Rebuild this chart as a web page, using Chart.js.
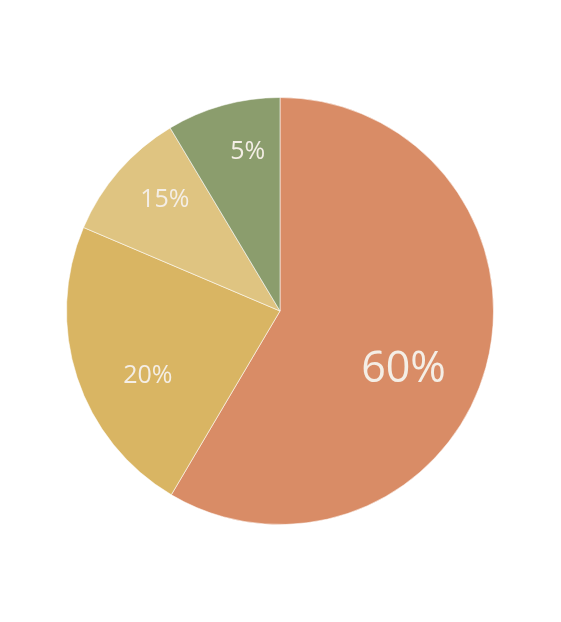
<!DOCTYPE html>
<html>
<head>
<meta charset="utf-8">
<script src="https://cdn.jsdelivr.net/npm/chart.js@4/dist/chart.umd.min.js"></script>
<style>
  html, body { margin: 0; padding: 0; background: #fff; }
  #wrap { width: 561px; height: 622px; }
</style>
</head>
<body>
<div id="wrap"><canvas id="pieChart"></canvas></div>
<script>
// slice sizes as drawn (share of the circle), and the labels printed on them
const categories = ["A", "B", "C", "D"];
const shares = [58.5, 22.9, 10.0, 8.6];
const labelTexts = ["60%", "20%", "15%", "5%"];
const colors = ["#D98C66", "#D9B563", "#DFC481", "#8B9D6D"];

// where each label sits inside its slice
const labelRadius = [0.64, 0.69, 0.75, 0.76];
const labelTurn = [10, -8, 3, 4]; // degrees, clockwise nudge from slice middle
const labelSize = [43, 25, 25, 25];

const sliceLabels = {
  id: "sliceLabels",
  afterDatasetsDraw(chart) {
    const ctx = chart.ctx;
    const arcs = chart.getDatasetMeta(0).data;
    ctx.save();
    ctx.fillStyle = "#F4EEE6";
    ctx.textAlign = "center";
    ctx.textBaseline = "middle";
    arcs.forEach((arc, i) => {
      const mid = (arc.startAngle + arc.endAngle) / 2 + labelTurn[i] * Math.PI / 180;
      const r = arc.outerRadius * labelRadius[i];
      ctx.font = labelSize[i] + 'px "Open Sans", "Noto Sans", sans-serif';
      ctx.fillText(labelTexts[i], arc.x + Math.cos(mid) * r, arc.y + Math.sin(mid) * r);
    });
    ctx.restore();
  },
};

const ctx = document.getElementById("pieChart").getContext("2d");
// eslint-disable-next-line no-undef
new Chart(ctx, {
  type: "pie",
  data: {
    labels: categories,
    datasets: [
      {
        data: shares,
        backgroundColor: colors,
        borderColor: "rgba(255,255,255,0.55)",
        borderWidth: 1,
      },
    ],
  },
  options: {
    responsive: true,
    maintainAspectRatio: false,
    animation: false,
    layout: {
      padding: { left: 66, right: 67, top: 97, bottom: 97 },
    },
    plugins: {
      legend: { display: false },
      tooltip: { enabled: false },
    },
  },
  plugins: [sliceLabels],
});
</script>
</body>
</html>
